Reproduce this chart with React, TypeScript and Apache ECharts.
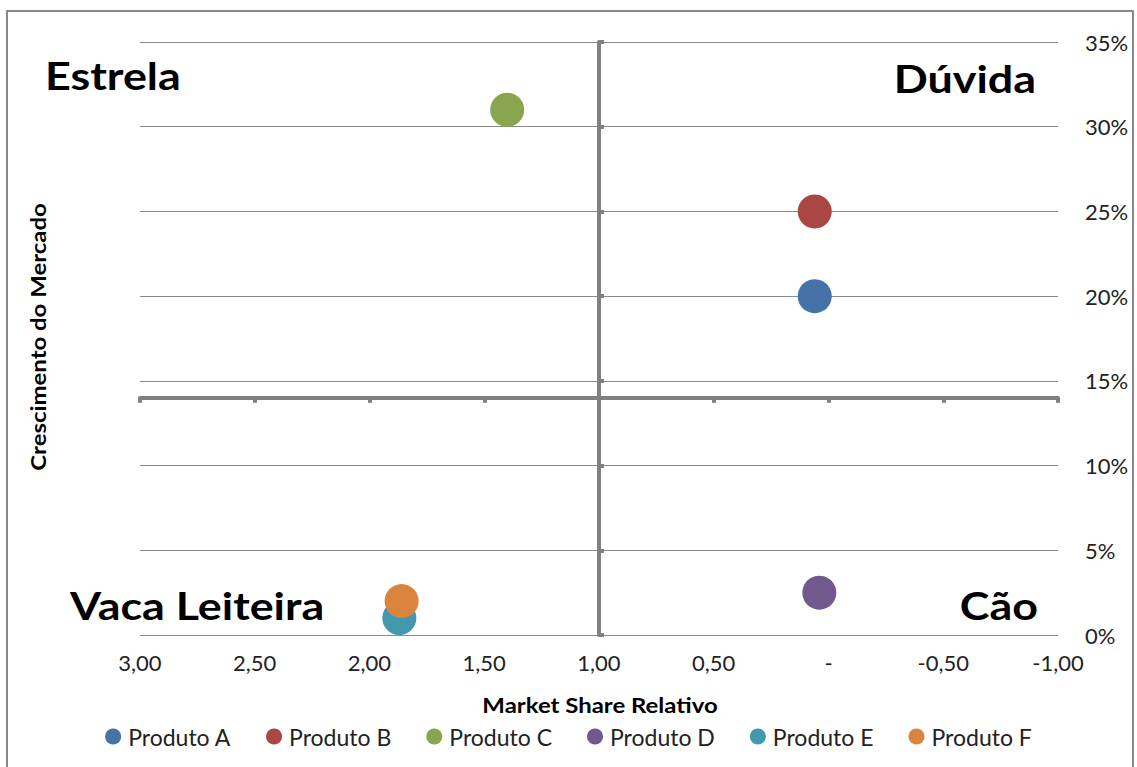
import React, { useEffect, useRef } from "react";
import * as echarts from "echarts";

const products = ["Produto A", "Produto B", "Produto C", "Produto D", "Produto E", "Produto F"];
const marketShare = [0.06, 0.06, 1.4, 0.04, 1.87, 1.86];
const growth = [0.2, 0.25, 0.31, 0.025, 0.01, 0.02];
const colors = ["#4572A7", "#AA4643", "#89A54E", "#71588F", "#4198AF", "#DB843D"];

const xMin = -1;
const xMax = 3;
const xStep = 0.5;
const yMin = 0;
const yMax = 0.35;
const yStep = 0.05;
const crossX = 1;
const crossY = 0.14;

const xTitle = "Market Share Relativo";
const yTitle = "Crescimento do Mercado";
const quadrants = ["Estrela", "Dúvida", "Vaca Leiteira", "Cão"];

const FONT = "Lato, 'Open Sans', sans-serif";
const AXIS_GRAY = "#808080";

const fmtX = (v: number) => (Math.abs(v) < 1e-9 ? "-" : v.toFixed(2).replace(".", ","));
const fmtY = (v: number) => Math.round(v * 100) + "%";

export default function App() {
  const ref = useRef<HTMLDivElement>(null);
  useEffect(() => {
    if (!ref.current) return;
    const chart = echarts.init(ref.current, undefined, { renderer: "svg" });
    const quadStyle = { fontFamily: FONT, fontSize: 38, fontWeight: "bold", fill: "#000" };
    const qScale = 1.18;
    chart.setOption({
      animation: false,
      backgroundColor: "#fff",
      grid: { left: 140, right: 79, top: 42, bottom: 132, containLabel: false },
      xAxis: [
        {
          type: "value",
          position: "bottom",
          inverse: true,
          min: xMin,
          max: xMax,
          interval: xStep,
          axisLine: { show: false, onZero: false },
          axisTick: { show: false },
          splitLine: { show: false },
          axisLabel: {
            formatter: fmtX,
            fontFamily: FONT,
            fontSize: 22,
            color: "#222",
            margin: 16,
            showMinLabel: true,
            showMaxLabel: true,
          },
        },
        {
          type: "value",
          position: "bottom",
          inverse: true,
          min: xMin,
          max: xMax,
          interval: xStep,
          axisLine: { show: true, onZero: true, onZeroAxisIndex: 1, lineStyle: { color: AXIS_GRAY, width: 4 } },
          axisTick: { show: true, length: 5, lineStyle: { color: AXIS_GRAY, width: 4 } },
          axisLabel: { show: false },
          splitLine: { show: false },
        },
        {
          type: "value",
          position: "top",
          show: false,
          inverse: true,
          min: xMin - crossX,
          max: xMax - crossX,
          axisLine: { onZero: false },
        },
      ],
      yAxis: [
        {
          type: "value",
          position: "right",
          min: yMin,
          max: yMax,
          interval: yStep,
          axisLine: { show: false, onZero: false },
          axisTick: { show: false },
          splitLine: { show: true, lineStyle: { color: "#8a8a8a", width: 1 } },
          axisLabel: {
            formatter: fmtY,
            fontFamily: FONT,
            fontSize: 22,
            color: "#222",
            margin: 27,
            align: "left",
          },
        },
        {
          type: "value",
          position: "left",
          show: false,
          min: yMin - crossY,
          max: yMax - crossY,
          axisLine: { onZero: false },
        },
        {
          type: "value",
          position: "right",
          min: yMin,
          max: yMax,
          interval: yStep,
          axisLine: { show: true, onZero: true, onZeroAxisIndex: 2, lineStyle: { color: AXIS_GRAY, width: 4 } },
          axisTick: { show: true, length: 5, lineStyle: { color: AXIS_GRAY, width: 4 } },
          axisLabel: { show: false },
          splitLine: { show: false },
        },
      ],
      legend: {
        data: products,
        top: 720,
        left: "center",
        icon: "circle",
        itemWidth: 16,
        itemHeight: 16,
        itemGap: 35,
        textStyle: { fontFamily: FONT, fontSize: 23, color: "#222", padding: [0, 0, 0, 2] },
      },
      series: products.map((name, i) => ({
        name,
        type: "scatter",
        xAxisIndex: 0,
        yAxisIndex: 0,
        symbol: "circle",
        symbolSize: 34,
        itemStyle: { color: colors[i], opacity: 1 },
        data: [[marketShare[i], growth[i]]],
        z: 5,
      })),
      graphic: [
        {
          type: "rect",
          shape: { x: 7, y: 11, width: 1126, height: 780 },
          style: { fill: "none", stroke: "#898989", lineWidth: 2 },
          z: -1,
          silent: true,
        },
        {
          type: "text",
          x: 600,
          y: 705,
          scaleX: 1.14,
          style: { text: xTitle, fontFamily: FONT, fontSize: 21, fontWeight: "bold", fill: "#000", align: "center", verticalAlign: "middle" },
        },
        {
          type: "text",
          x: 38,
          y: 337,
          rotation: Math.PI / 2,
          scaleX: 1.14,
          style: { text: yTitle, fontFamily: FONT, fontSize: 21, fontWeight: "bold", fill: "#000", align: "center", verticalAlign: "middle" },
        },
        { type: "text", x: 45, y: 75, scaleX: qScale, style: { ...quadStyle, text: quadrants[0], align: "left", verticalAlign: "middle" } },
        { type: "text", x: 1036, y: 78, scaleX: qScale, style: { ...quadStyle, text: quadrants[1], align: "right", verticalAlign: "middle" } },
        { type: "text", x: 70, y: 605, scaleX: qScale, style: { ...quadStyle, text: quadrants[2], align: "left", verticalAlign: "middle" } },
        { type: "text", x: 1038, y: 605, scaleX: qScale, style: { ...quadStyle, text: quadrants[3], align: "right", verticalAlign: "middle" } },
      ],
    });
    return () => chart.dispose();
  }, []);
  return (
    <div
      ref={ref}
      style={{ position: "fixed", left: 0, top: 0, width: 1137, height: 767, background: "#fff" }}
    />
  );
}
